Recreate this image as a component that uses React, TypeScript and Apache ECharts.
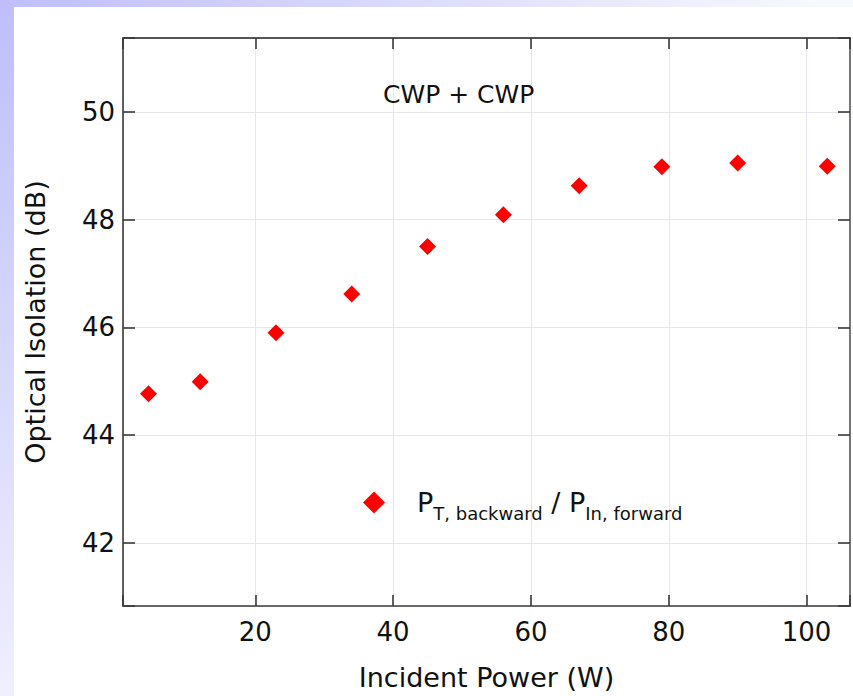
import React, { useEffect, useRef } from "react";
import * as echarts from "echarts";

const incidentPower = [4.5, 12, 23, 34, 45, 56, 67, 79, 90, 103];
const isolation = [44.77, 44.99, 45.9, 46.62, 47.5, 48.09, 48.63, 48.98, 49.05, 48.99];
const xRange = [0.8, 106.3];
const yRange = [40.83, 51.37];
const xTickStep = 20;
const yTickStep = 2;
const seriesName = "P_T,backward / P_In,forward";
const titleText = "CWP + CWP";
const xTitle = "Incident Power (W)";
const yTitle = "Optical Isolation (dB)";

const FONT = "DejaVu Sans";
const TEXT = "#111111";

function stepLabel(step: number) {
  return (v: number) => {
    const r = Math.round(v);
    if (Math.abs(v - r) > 1e-6) return "";
    return r % step === 0 ? String(r) : "";
  };
}

export default function App() {
  const ref = useRef<HTMLDivElement>(null);
  useEffect(() => {
    if (!ref.current) return;
    const chart = echarts.init(ref.current, null, { renderer: "svg" });
    const axisLine = { show: true, lineStyle: { color: "#3a3a3a", width: 1.6 } };
    const option: any = {
      animation: false,
      backgroundColor: "transparent",
      textStyle: { fontFamily: FONT },
      title: {
        text: titleText,
        left: 383,
        top: 82,
        padding: 0,
        textStyle: { fontFamily: FONT, fontSize: 25, fontWeight: "normal", color: TEXT },
      },
      grid: { left: 123, top: 38, right: 3, bottom: 89, containLabel: false },
      legend: {
        left: 363,
        top: 489,
        padding: 0,
        itemWidth: 22,
        itemHeight: 22,
        icon: "diamond",
        selectedMode: false,
        data: [{ name: seriesName, icon: "diamond", itemStyle: { color: "#ff0000", opacity: 1 } }],
        formatter: () => "{p0|P}{s|T, backward}{m| / }{p|P}{s|In, forward}",
        textStyle: {
          fontFamily: FONT,
          color: TEXT,
          rich: {
            p0: { fontFamily: FONT, fontSize: 27, lineHeight: 40, color: TEXT, padding: [0, 0, 0, 27], verticalAlign: "middle" },
            p: { fontFamily: FONT, fontSize: 27, lineHeight: 40, color: TEXT, verticalAlign: "middle" },
            m: { fontFamily: FONT, fontSize: 27, lineHeight: 40, color: TEXT, verticalAlign: "middle" },
            s: { fontFamily: FONT, fontSize: 18, lineHeight: 14, color: TEXT, verticalAlign: "bottom" },
          },
        },
      },
      xAxis: [
        {
          type: "value",
          min: xRange[0],
          max: xRange[1],
          position: "bottom",
          name: xTitle,
          nameLocation: "middle",
          nameGap: 58,
          nameMoveOverlap: false,
          nameTextStyle: { fontFamily: FONT, fontSize: 27, color: TEXT },
          axisLine,
          axisTick: { show: true, inside: true, length: 11, lineStyle: { color: "#3a3a3a", width: 1.6 } },
          axisLabel: { show: true, margin: 13, fontFamily: FONT, fontSize: 26, color: TEXT, formatter: stepLabel(xTickStep) },
          splitLine: { show: true, lineStyle: { color: "#e6e6f2", width: 1 } },
        },
        {
          type: "value",
          min: xRange[0],
          max: xRange[1],
          position: "top",
          axisLine: { show: true, lineStyle: { color: "#222222", width: 1.6 } },
          axisTick: { show: true, inside: true, length: 11, lineStyle: { color: "#3a3a3a", width: 1.6 } },
          axisLabel: { show: false },
          splitLine: { show: false },
        },
      ],
      yAxis: [
        {
          type: "value",
          min: yRange[0],
          max: yRange[1],
          position: "left",
          name: yTitle,
          nameLocation: "middle",
          nameGap: 74,
          nameMoveOverlap: false,
          nameTextStyle: { fontFamily: FONT, fontSize: 27, color: TEXT },
          axisLine,
          axisTick: { show: true, inside: true, length: 12, lineStyle: { color: "#3a3a3a", width: 1.6 } },
          axisLabel: { show: true, margin: 8, fontFamily: FONT, fontSize: 26, color: TEXT, formatter: stepLabel(yTickStep) },
          splitLine: { show: true, lineStyle: { color: "#e6e6f2", width: 1 } },
        },
        {
          type: "value",
          min: yRange[0],
          max: yRange[1],
          position: "right",
          axisLine: { show: true, lineStyle: { color: "#777777", width: 2 } },
          axisTick: { show: true, inside: true, length: 12, lineStyle: { color: "#3a3a3a", width: 1.6 } },
          axisLabel: { show: false },
          splitLine: { show: false },
        },
      ],
      series: [
        {
          name: seriesName,
          type: "scatter",
          xAxisIndex: 0,
          yAxisIndex: 0,
          symbol: "diamond",
          symbolSize: [17, 17],
          itemStyle: { color: "#ff0000", opacity: 1 },
          data: incidentPower.map((x, i) => [x, isolation[i]]),
        },
      ],
    };
    chart.setOption(option);
    return () => chart.dispose();
  }, []);

  return (
    <div
      style={{
        position: "absolute",
        left: 0,
        top: 0,
        width: 853,
        height: 696,
        overflow: "hidden",
        background: "radial-gradient(circle at 0 0, #bebefb 0px, #f8f8ff 820px)",
      }}
    >
      <div style={{ position: "absolute", left: 14, top: 7, right: 0, bottom: 0, background: "#ffffff" }} />
      <div ref={ref} style={{ position: "absolute", left: 0, top: 0, width: 853, height: 696 }} />
    </div>
  );
}
